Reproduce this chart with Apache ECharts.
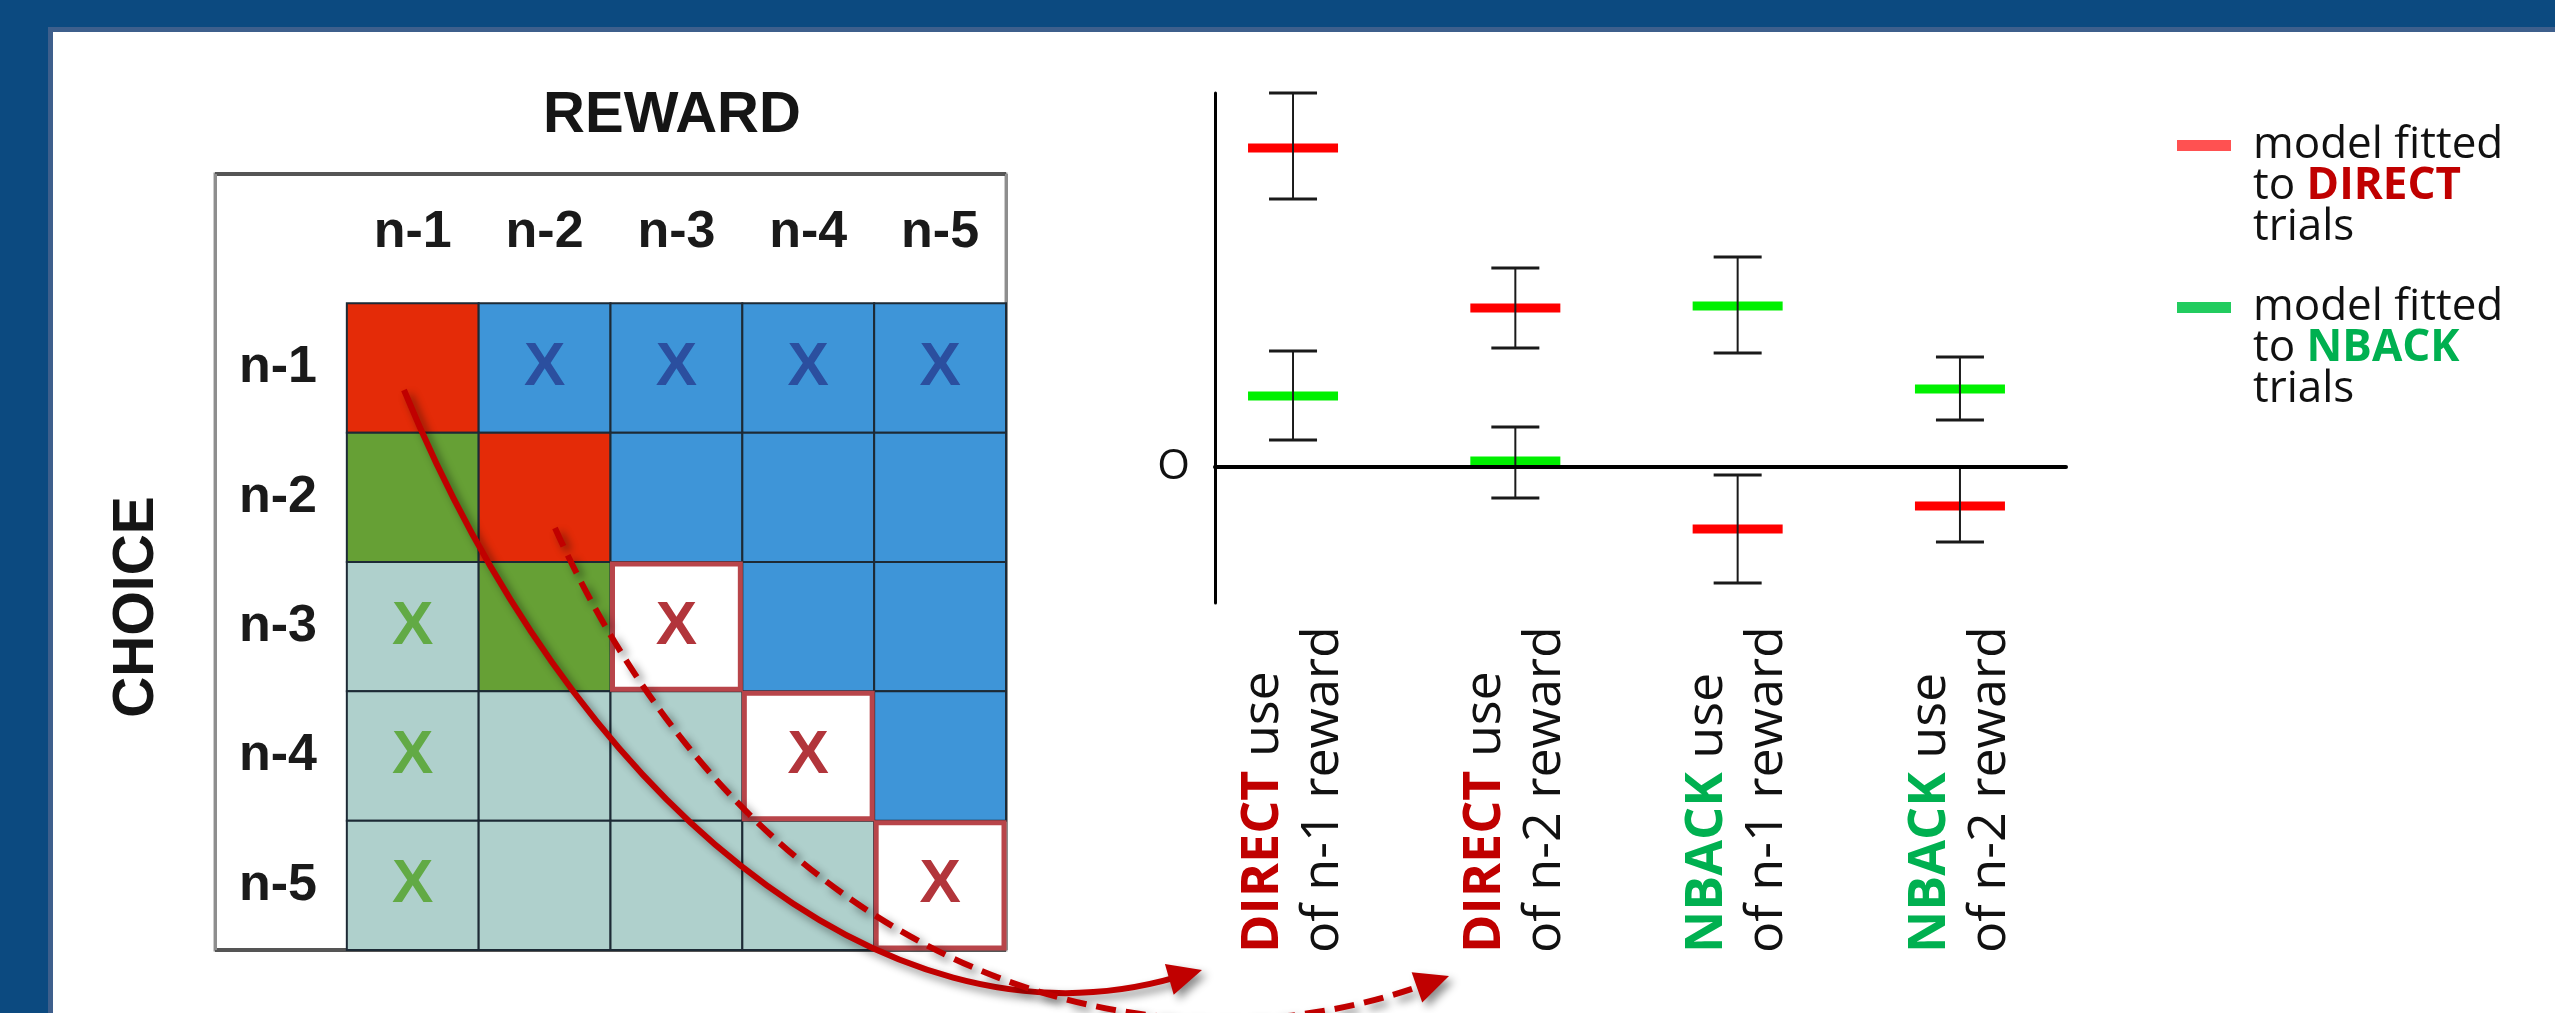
<!DOCTYPE html>
<html>
<head>
<meta charset="utf-8">
<script src="https://cdn.jsdelivr.net/npm/echarts@6/dist/echarts.min.js"></script>
<style>
  html, body { margin: 0; padding: 0; width: 100%; height: 100%; overflow: hidden; background: #fff; }
  .bar-top { position: fixed; left: 0; top: 0; right: 0; height: 27px; background: #0c4a80;
             border-bottom: 5px solid #3e5f8c; z-index: 1; }
  .bar-left { position: fixed; left: 0; top: 27px; bottom: 0; width: 48px; background: #0c4a80;
              border-right: 5px solid #3e5f8c; z-index: 2; }
  #chart { position: absolute; left: 0; top: 0; width: 2555px; height: 1013px; z-index: 3; }
</style>
</head>
<body>
<div class="bar-top"></div>
<div class="bar-left"></div>
<div id="chart"></div>
<script>
// table: rows are the choice lag, columns the reward lag
const rewardLags = ["n-1", "n-2", "n-3", "n-4", "n-5"];
const choiceLags = ["n-1", "n-2", "n-3", "n-4", "n-5"];
const cellKinds = [
  ["red", "blue", "blue", "blue", "blue"],
  ["green", "red", "blue", "blue", "blue"],
  ["teal", "green", "white", "blue", "blue"],
  ["teal", "teal", "teal", "white", "blue"],
  ["teal", "teal", "teal", "teal", "white"],
];
const cellMarks = [
  ["", "X", "X", "X", "X"],
  ["", "", "", "", ""],
  ["X", "", "X", "", ""],
  ["X", "", "", "X", ""],
  ["X", "", "", "", "X"],
];

// regression weights with error bars
const regressors = ["DIRECT", "DIRECT", "NBACK", "NBACK"];
const regressorLags = ["n-1", "n-2", "n-1", "n-2"];
const directMean = [3.19, 1.59, -0.62, -0.39];
const directLow = [2.68, 1.19, -1.16, -0.75];
const directHigh = [3.74, 1.99, -0.08, 0.0];
const nbackMean = [0.71, 0.06, 1.61, 0.78];
const nbackLow = [0.27, -0.31, 1.14, 0.47];
const nbackHigh = [1.16, 0.4, 2.1, 1.1];

const CELL_FILL = { red: "#e42b08", blue: "#3e95d8", green: "#66a035", teal: "#afd0cc", white: "#ffffff" };
const MARK_COLOR = { blue: "#2b4f9f", teal: "#62aa45", white: "#b2353b" };
const TABLE_FONT = '"Liberation Sans", Arial, sans-serif';
const TEXT_FONT = '"Open Sans", "Noto Sans", sans-serif';
const ARROW_RED = "#c00000";

const cells = [];
cellKinds.forEach((row, r) => {
  row.forEach((kind, c) => {
    cells.push({ col: c + 1, row: r + 1, kind, mark: cellMarks[r][c] });
  });
});
// white cells last so their red frame sits on top
cells.sort((a, b) => (a.kind === "white") - (b.kind === "white"));

function renderCell(params, api) {
  const cell = cells[params.dataIndex];
  const center = api.coord([api.value(0), api.value(1)]);
  const size = api.size([1, 1]);
  const isWhite = cell.kind === "white";
  const inset = isWhite ? 2 : 0;
  const children = [
    {
      type: "rect",
      shape: {
        x: center[0] - size[0] / 2 + inset,
        y: center[1] - size[1] / 2 + inset,
        width: size[0] - 2 * inset,
        height: size[1] - 2 * inset,
      },
      style: {
        fill: CELL_FILL[cell.kind],
        stroke: isWhite ? "#b8454a" : "#1d2a35",
        lineWidth: isWhite ? 5 : 2,
      },
    },
  ];
  if (cell.mark) {
    children.push({
      type: "text",
      style: {
        text: cell.mark,
        x: center[0],
        y: center[1],
        align: "center",
        verticalAlign: "middle",
        fill: MARK_COLOR[cell.kind],
        font: "bold 62px " + TABLE_FONT,
      },
    });
  }
  return { type: "group", children };
}

function renderErrorBar(params, api) {
  const x = api.value(0);
  const mid = api.coord([x, api.value(1)]);
  const lo = api.coord([x, api.value(2)]);
  const hi = api.coord([x, api.value(3)]);
  const color = api.visual("color");
  const capHalf = 24;
  const dashHalf = 45;
  const ink = "#1a1a1a";
  return {
    type: "group",
    children: [
      { type: "rect", shape: { x: mid[0] - dashHalf, y: mid[1] - 4.5, width: dashHalf * 2, height: 9 }, style: { fill: color } },
      { type: "line", shape: { x1: mid[0], y1: hi[1], x2: mid[0], y2: lo[1] }, style: { stroke: ink, lineWidth: 2 } },
      { type: "line", shape: { x1: mid[0] - capHalf, y1: hi[1], x2: mid[0] + capHalf, y2: hi[1] }, style: { stroke: ink, lineWidth: 3 } },
      { type: "line", shape: { x1: mid[0] - capHalf, y1: lo[1], x2: mid[0] + capHalf, y2: lo[1] }, style: { stroke: ink, lineWidth: 3 } },
    ],
  };
}

// curved arrow from a table cell down to a regressor label
function curvedArrow(p0, c1, c2, tip, dashed) {
  const dx = tip[0] - c2[0];
  const dy = tip[1] - c2[1];
  const len = Math.hypot(dx, dy);
  const ux = dx / len;
  const uy = dy / len;
  const headLen = 34;
  const headHalf = 16;
  const base = [tip[0] - ux * headLen, tip[1] - uy * headLen];
  const end = [tip[0] - ux * (headLen - 6), tip[1] - uy * (headLen - 6)];
  const shadow = { shadowBlur: 8, shadowColor: "rgba(0,0,0,0.45)", shadowOffsetX: 5, shadowOffsetY: 5 };
  return [
    {
      type: "bezierCurve",
      z: 50,
      shape: { x1: p0[0], y1: p0[1], cpx1: c1[0], cpy1: c1[1], cpx2: c2[0], cpy2: c2[1], x2: end[0], y2: end[1] },
      style: Object.assign({ stroke: ARROW_RED, fill: "none", lineWidth: 6, lineDash: dashed ? [20, 10] : null }, shadow),
    },
    {
      type: "polygon",
      z: 50,
      shape: {
        points: [
          tip,
          [base[0] - uy * headHalf, base[1] + ux * headHalf],
          [base[0] + uy * headHalf, base[1] - ux * headHalf],
        ],
      },
      style: Object.assign({ fill: ARROW_RED }, shadow),
    },
  ];
}

function regressorLabel(value) {
  const i = Math.round(value);
  const tag = regressors[i] === "DIRECT" ? "d" : "n";
  return "{" + tag + "|" + regressors[i] + "} use\nof " + regressorLags[i] + " reward";
}

function legendLabel(name) {
  const tag = name === "DIRECT" ? "d" : "n";
  return "model fitted\nto {" + tag + "|" + name + "}\ntrials";
}

const legendCommon = {
  orient: "vertical",
  left: 2172,
  icon: "rect",
  itemWidth: 54,
  itemHeight: 11,
  selectedMode: false,
  formatter: legendLabel,
  textStyle: {
    fontFamily: TEXT_FONT,
    fontSize: 44,
    lineHeight: 41,
    color: "#111",
    padding: [82, 0, 0, 17],
    rich: {
      d: { color: "#c00000", fontWeight: "bold", fontSize: 44, lineHeight: 41, fontFamily: TEXT_FONT },
      n: { color: "#00b050", fontWeight: "bold", fontSize: 44, lineHeight: 41, fontFamily: TEXT_FONT },
    },
  },
};

const chart = echarts.init(document.getElementById("chart"), null, { renderer: "canvas" });

chart.setOption({
  backgroundColor: "transparent",
  animation: false,
  grid: [
    {
      left: 215, top: 174, width: 791, height: 776, outerBoundsMode: "none",
      show: true, backgroundColor: "#fff", borderColor: "#9a9a9a", borderWidth: 3,
    },
    { left: 1215, top: 93, width: 851, height: 510, outerBoundsMode: "none" },
  ],
  xAxis: [
    {
      type: "category",
      gridIndex: 0,
      position: "top",
      data: [""].concat(rewardLags),
      axisLine: { show: false },
      axisTick: { show: false },
      axisLabel: {
        inside: true,
        margin: 59,
        verticalAlign: "middle",
        fontFamily: TABLE_FONT,
        fontWeight: "bold",
        fontSize: 52,
        color: "#1a1a1a",
      },
      splitLine: { show: true, interval: (i) => i === 1, lineStyle: { color: "#8e8e8e", width: 3 } },
      name: "REWARD",
      nameLocation: "middle",
      nameGap: 58,
      nameTextStyle: {
        fontFamily: TABLE_FONT,
        fontWeight: "bold",
        fontSize: 58,
        color: "#151515",
        verticalAlign: "middle",
        padding: [0, 0, 0, 123],
      },
    },
    {
      type: "value",
      gridIndex: 1,
      min: -0.351,
      max: 3.477,
      z: 5,
      axisLine: { onZero: true, lineStyle: { color: "#000", width: 4 } },
      axisTick: { show: false },
      splitLine: { show: false },
      axisLabel: {
        customValues: [0, 1, 2, 3],
        formatter: regressorLabel,
        rotate: 90,
        align: "left",
        verticalAlign: "middle",
        margin: 350,
        fontFamily: TEXT_FONT,
        fontSize: 52,
        lineHeight: 60,
        color: "#111",
        rich: {
          d: { color: "#c00000", fontWeight: "bold", fontSize: 52, lineHeight: 60, fontFamily: TEXT_FONT },
          n: { color: "#00b050", fontWeight: "bold", fontSize: 52, lineHeight: 60, fontFamily: TEXT_FONT },
        },
      },
    },
  ],
  yAxis: [
    {
      type: "category",
      gridIndex: 0,
      inverse: true,
      data: [""].concat(choiceLags),
      axisLine: { show: false },
      axisTick: { show: false },
      axisLabel: {
        inside: true,
        margin: 63,
        align: "center",
        fontFamily: TABLE_FONT,
        fontWeight: "bold",
        fontSize: 52,
        color: "#1a1a1a",
      },
      splitLine: { show: true, interval: (i) => i === 1, lineStyle: { color: "#555", width: 4 } },
      name: "CHOICE",
      nameLocation: "middle",
      nameRotate: 90,
      nameGap: 78,
      nameTextStyle: {
        fontFamily: TABLE_FONT,
        fontWeight: "bold",
        fontSize: 57,
        color: "#151515",
        verticalAlign: "middle",
        padding: [0, 90, 0, 0],
      },
    },
    {
      type: "value",
      gridIndex: 1,
      min: -1.36,
      max: 3.74,
      axisLine: { show: true, onZero: false, lineStyle: { color: "#000", width: 3 } },
      axisTick: { show: false },
      splitLine: { show: false },
      axisLabel: {
        customValues: [0],
        formatter: () => "O",
        margin: 25,
        fontFamily: TEXT_FONT,
        fontSize: 42,
        color: "#111",
      },
    },
  ],
  legend: [
    Object.assign({ top: 38, data: [{ name: "DIRECT", itemStyle: { color: "#ff5151" } }] }, legendCommon),
    Object.assign({ top: 200, data: [{ name: "NBACK", itemStyle: { color: "#22cc5f" } }] }, legendCommon),
  ],
  series: [
    {
      name: "cells",
      type: "custom",
      xAxisIndex: 0,
      yAxisIndex: 0,
      renderItem: renderCell,
      data: cells.map((c) => [c.col, c.row]),
      silent: true,
    },
    {
      name: "DIRECT",
      type: "custom",
      xAxisIndex: 1,
      yAxisIndex: 1,
      clip: false,
      itemStyle: { color: "#ff0000" },
      renderItem: renderErrorBar,
      encode: { x: 0, y: [1, 2, 3] },
      data: regressors.map((_, i) => [i, directMean[i], directLow[i], directHigh[i]]),
    },
    {
      name: "NBACK",
      type: "custom",
      xAxisIndex: 1,
      yAxisIndex: 1,
      clip: false,
      itemStyle: { color: "#00f000" },
      renderItem: renderErrorBar,
      encode: { x: 0, y: [1, 2, 3] },
      data: regressors.map((_, i) => [i, nbackMean[i], nbackLow[i], nbackHigh[i]]),
    },
  ],
  graphic: [].concat(
    curvedArrow([404, 390], [568, 790], [880, 1062], [1202, 970], false),
    curvedArrow([555, 528], [744, 948], [1117, 1093], [1449, 976], true)
  ),
});
</script>
</body>
</html>
